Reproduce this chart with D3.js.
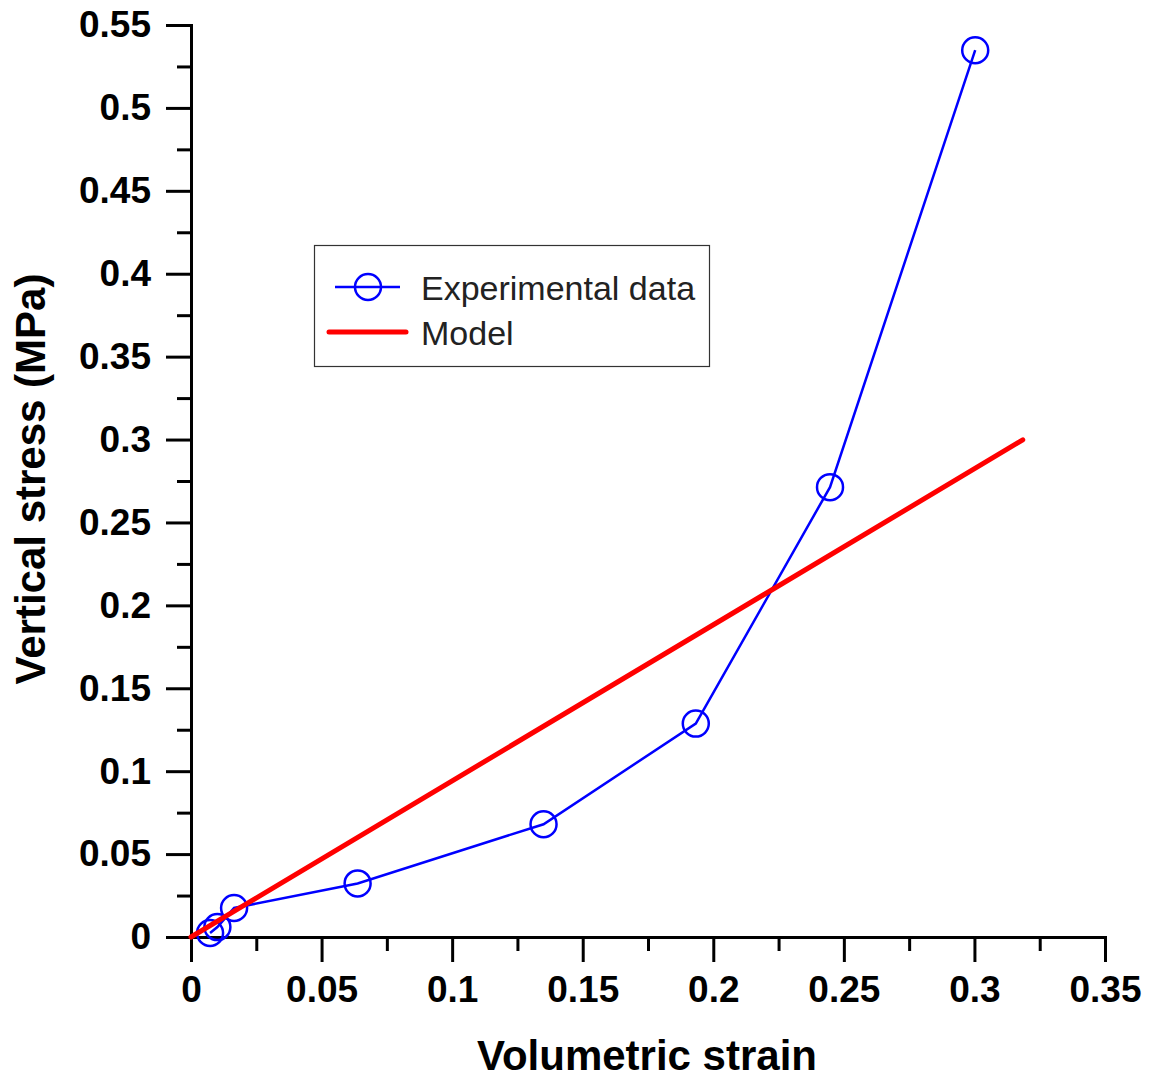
<!DOCTYPE html>
<html>
<head>
<meta charset="utf-8">
<script src="https://cdn.jsdelivr.net/npm/d3@7"></script>
<style>
  html, body { margin: 0; padding: 0; background: #fff; }
  svg { display: block; font-family: Arial, "Liberation Sans", sans-serif; }
</style>
</head>
<body>
<div id="svgContainer"></div>
<script>
// experimental points
const strain = [0.0073, 0.0101, 0.0165, 0.0638, 0.135, 0.1933, 0.2447, 0.3003];
const stress = [0.0024, 0.006, 0.0175, 0.0323, 0.068, 0.1287, 0.2713, 0.5348];

// model line (straight)
const modelStrain = [0, 0.3185];
const modelStress = [0, 0.2998];

const xTicks = [0, 0.05, 0.1, 0.15, 0.2, 0.25, 0.3, 0.35];
const yTicks = [0, 0.05, 0.1, 0.15, 0.2, 0.25, 0.3, 0.35, 0.4, 0.45, 0.5, 0.55];
const xMinor = [0.025, 0.075, 0.125, 0.175, 0.225, 0.275, 0.325];
const yMinor = [0.025, 0.075, 0.125, 0.175, 0.225, 0.275, 0.325, 0.375, 0.425, 0.475, 0.525];

const legendLabels = ["Experimental data", "Model"];

const width = 1150;
const height = 1082;

const svg = d3.select("#svgContainer")
  .append("svg")
  .attr("width", width)
  .attr("height", height)
  .attr("viewBox", `0 0 ${width} ${height}`);

const x = d3.scaleLinear().domain([0, 0.35]).range([191, 1105]);
const y = d3.scaleLinear().domain([0, 0.55]).range([937, 25]);

const fmt = d3.format("~g");

// axes
const styleAxis = (g) => {
  g.select(".domain").attr("stroke", "#000").attr("stroke-width", 3);
  g.selectAll(".tick line").attr("stroke", "#000").attr("stroke-width", 3);
  g.selectAll(".tick text")
    .attr("fill", "#000")
    .attr("font-size", 37)
    .attr("font-weight", "bold");
};

svg.append("g")
  .attr("transform", `translate(0, ${y(0)})`)
  .call(d3.axisBottom(x).tickValues(xMinor).tickSize(14).tickFormat(""))
  .call(styleAxis);

svg.append("g")
  .attr("transform", `translate(0, ${y(0)})`)
  .call(d3.axisBottom(x).tickValues(xTicks).tickSize(25).tickSizeOuter(0).tickPadding(14).tickFormat(fmt))
  .call(styleAxis)
  .call(g => g.selectAll(".tick text").attr("dy", "0.71em"));

svg.append("g")
  .attr("transform", `translate(${x(0)}, 0)`)
  .call(d3.axisLeft(y).tickValues(yMinor).tickSize(14).tickFormat(""))
  .call(styleAxis);

svg.append("g")
  .attr("transform", `translate(${x(0)}, 0)`)
  .call(d3.axisLeft(y).tickValues(yTicks).tickSize(25).tickSizeOuter(0).tickPadding(15).tickFormat(fmt))
  .call(styleAxis);

// axis titles
svg.append("text")
  .attr("x", 647)
  .attr("y", 1070)
  .attr("text-anchor", "middle")
  .attr("font-size", 42)
  .attr("font-weight", "bold")
  .text("Volumetric strain");

svg.append("text")
  .attr("transform", "translate(45, 479) rotate(-90)")
  .attr("text-anchor", "middle")
  .attr("font-size", 42)
  .attr("font-weight", "bold")
  .text("Vertical stress (MPa)");

// experimental series
const expData = strain.map((s, i) => [s, stress[i]]);
const line = d3.line().x(d => x(d[0])).y(d => y(d[1]));

svg.append("path")
  .datum(expData)
  .attr("fill", "none")
  .attr("stroke", "#0000ff")
  .attr("stroke-width", 2.5)
  .attr("d", line);

svg.selectAll(".pt")
  .data(expData)
  .enter()
  .append("circle")
  .attr("class", "pt")
  .attr("cx", d => x(d[0]))
  .attr("cy", d => y(d[1]))
  .attr("r", 13)
  .attr("fill", "none")
  .attr("stroke", "#0000ff")
  .attr("stroke-width", 2.5);

// model
const modelData = modelStrain.map((s, i) => [s, modelStress[i]]);
svg.append("path")
  .datum(modelData)
  .attr("fill", "none")
  .attr("stroke", "#ff0000")
  .attr("stroke-width", 5)
  .attr("stroke-linecap", "round")
  .attr("d", line);

// legend
const legend = svg.append("g");
legend.append("rect")
  .attr("x", 314.5)
  .attr("y", 245.5)
  .attr("width", 395)
  .attr("height", 121)
  .attr("fill", "#fff")
  .attr("stroke", "#333")
  .attr("stroke-width", 1.2);

legend.append("line")
  .attr("x1", 335).attr("x2", 400)
  .attr("y1", 287).attr("y2", 287)
  .attr("stroke", "#0000ff").attr("stroke-width", 2.5);
legend.append("circle")
  .attr("cx", 368).attr("cy", 287).attr("r", 13)
  .attr("fill", "none")
  .attr("stroke", "#0000ff").attr("stroke-width", 2.5);
legend.append("line")
  .attr("x1", 329).attr("x2", 406)
  .attr("y1", 332).attr("y2", 332)
  .attr("stroke", "#ff0000").attr("stroke-width", 5)
  .attr("stroke-linecap", "round");

legend.selectAll(".lbl")
  .data(legendLabels)
  .enter()
  .append("text")
  .attr("class", "lbl")
  .attr("x", 421)
  .attr("y", (d, i) => 300 + i * 45)
  .attr("font-size", 34)
  .attr("fill", "#222")
  .text(d => d);
</script>
</body>
</html>
